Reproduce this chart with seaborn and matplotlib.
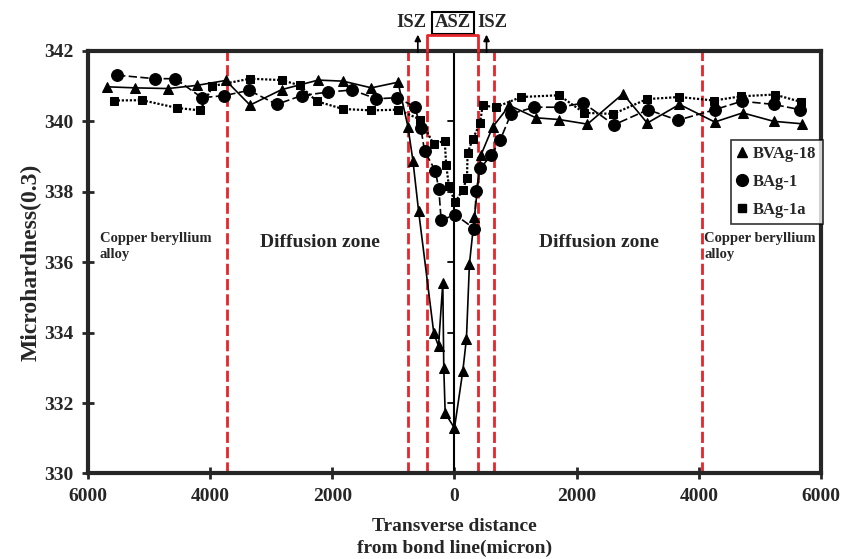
import matplotlib
matplotlib.use("Agg")
import matplotlib.pyplot as plt
from matplotlib.lines import Line2D
import seaborn as sns

# ---- data (x in micron, left of bond line negative) ----
tri_x = [-5690, -5236, -4691, -4217, -3744, -3347, -2830, -2231, -1823, -1360, -925,
         -762, -680, -588, -338, -261, -191, -175, -152, 0, 136, 196, 245, 327, 435,
         626, 900, 1333, 1714, 2177, 2759, 3156, 3684, 4261, 4718, 5224, 5687]
tri_y = [340.98, 340.95, 340.93, 341.02, 341.16, 340.46, 340.90, 341.17, 341.14, 340.95, 341.11,
         339.85, 338.88, 337.46, 333.98, 333.62, 335.41, 333.00, 331.71, 331.29, 332.90, 333.83, 335.95, 337.29, 339.05,
         339.84, 340.45, 340.10, 340.05, 339.92, 340.78, 339.95, 340.48, 339.98, 340.24, 340.00, 339.93]

circ_x = [-5524, -4909, -4571, -4136, -3766, -3363, -2911, -2503, -2068, -1677, -1279, -936,
          -650, -550, -490, -315, -256, -218, 10, 327, 354, 424, 599, 751, 925, 1306,
          1731, 2111, 2612, 3167, 3657, 4261, 4702, 5224, 5660]
circ_y = [341.31, 341.21, 341.21, 340.67, 340.73, 340.88, 340.48, 340.73, 340.83, 340.89, 340.64, 340.67,
          340.41, 339.81, 339.16, 338.60, 338.08, 337.19, 337.35, 336.95, 338.02, 338.67, 339.03, 339.48, 340.21, 340.40,
          340.40, 340.52, 339.90, 340.33, 340.03, 340.33, 340.57, 340.48, 340.33]

sq_x = [-5578, -5116, -4544, -4163, -3962, -3347, -2830, -2531, -2258, -1824, -1360, -925,
        -560, -340, -160, -135, -90, 10, 135, 205, 215, 300, 420, 460, 680, 1089,
        1714, 2122, 2601, 3150, 3684, 4245, 4697, 5241, 5676]
sq_y = [340.59, 340.60, 340.38, 340.31, 341.00, 341.21, 341.17, 341.02, 340.57, 340.35, 340.31, 340.33,
        340.05, 339.35, 339.45, 338.75, 338.15, 337.70, 338.05, 338.40, 339.10, 339.50, 339.95, 340.45, 340.40, 340.69,
        340.74, 340.24, 340.21, 340.63, 340.69, 340.59, 340.71, 340.76, 340.55]

series_names = ["BVAg-18", "BAg-1", "BAg-1a"]
zone_bounds = [-3720, -765, -450, 380, 640, 4055]
x_ticks = [-6000, -4000, -2000, 0, 2000, 4000, 6000]
y_ticks = [330, 332, 334, 336, 338, 340, 342]

sns.set_style("ticks")
plt.rcParams["font.family"] = ["Liberation Serif", "DejaVu Serif"]
plt.rcParams["font.weight"] = "bold"
plt.rcParams["axes.labelweight"] = "bold"

fig, ax = plt.subplots(figsize=(8.42, 5.59), dpi=100)
fig.subplots_adjust(left=0.1045, right=0.975, top=0.909, bottom=0.153)

RED = "#e5262b"

# zone boundaries
for bx in zone_bounds:
    ax.axvline(bx, color=RED, lw=2, ls=(0, (4, 1.5)), zorder=1)

# bond line with its small ticks
ax.axvline(0, color="black", lw=1.5, zorder=2)
for yt in y_ticks[1:-1]:
    ax.plot([-110, 0], [yt, yt], color="black", lw=1.3, zorder=2)

# ==================== series ====================
sns.lineplot(x=tri_x, y=tri_y, ax=ax, color="black", lw=1.2, marker="^", markersize=6.5,
             markeredgecolor="black", sort=False, estimator=None, zorder=3)
sns.lineplot(x=circ_x, y=circ_y, ax=ax, color="black", lw=1.2, ls=(0, (5, 2)), marker="o",
             markersize=8.5, markeredgecolor="black", sort=False, estimator=None, zorder=3)
sns.lineplot(x=sq_x, y=sq_y, ax=ax, color="black", lw=1.6, ls=(0, (1, 0.8)), marker="s",
             markersize=6, markeredgecolor="black", sort=False, estimator=None, zorder=3)

ax.set_xlim(-6000, 6000)
ax.set_ylim(330, 342)
ax.set_xticks(x_ticks)
ax.set_xticklabels([str(abs(t)) for t in x_ticks])
ax.set_yticks(y_ticks)
ax.tick_params(axis="both", direction="inout", length=9, width=2, labelsize=14, pad=6)
for s in ax.spines.values():
    s.set_linewidth(3)

ax.set_xlabel("Transverse distance\nfrom bond line(micron)", fontsize=14, labelpad=9,
              linespacing=1.35)
ax.set_ylabel("Microhardness(0.3)", fontsize=17, labelpad=2)

# zone labels
ax.text(-5810, 336.45, "Copper beryllium\nalloy", fontsize=10.5, ha="left", va="center",
        linespacing=1.3)
ax.text(4090, 336.45, "Copper beryllium\nalloy", fontsize=10.5, ha="left", va="center",
        linespacing=1.3)
ax.text(-2210, 336.55, "Diffusion zone", fontsize=14, ha="center", va="center")
ax.text(2360, 336.55, "Diffusion zone", fontsize=14, ha="center", va="center")

# ISZ / ASZ annotation above the plot
tr = ax.get_xaxis_transform()
ax.text(-700, 1.066, "ISZ", transform=tr, fontsize=13.5, ha="center", va="center", clip_on=False)
ax.text(620, 1.066, "ISZ", transform=tr, fontsize=13.5, ha="center", va="center", clip_on=False)
ax.text(-25, 1.066, "ASZ", transform=tr, fontsize=13.5, ha="center", va="center", clip_on=False,
        bbox=dict(boxstyle="square,pad=0.15", fc="white", ec="black", lw=1.5))
ax.plot([-450, -450, 380, 380], [1.0, 1.037, 1.037, 1.0], transform=tr, color=RED, lw=2,
        clip_on=False, zorder=4)
for ax_x in [-600, 525]:
    ax.annotate("", xy=(ax_x, 1.045), xytext=(ax_x, 0.99), xycoords=tr, textcoords=tr,
                arrowprops=dict(arrowstyle="-|>", color="black", lw=1.2, mutation_scale=9))

# legend: markers only
handles = [Line2D([], [], ls="none", marker=m, color="black", markersize=ms)
           for m, ms in zip(["^", "o", "s"], [6.5, 8.5, 6])]
leg = ax.legend(handles, series_names, loc="upper left", bbox_to_anchor=(0.877, 0.79),
                borderaxespad=0, frameon=True, fancybox=False, edgecolor="black",
                prop={"size": 12, "weight": "bold"}, handlelength=0.6, handletextpad=0.3,
                labelspacing=0.7, borderpad=0.4)
leg.get_frame().set_linewidth(1.2)

fig.savefig("out.png", dpi=100)
